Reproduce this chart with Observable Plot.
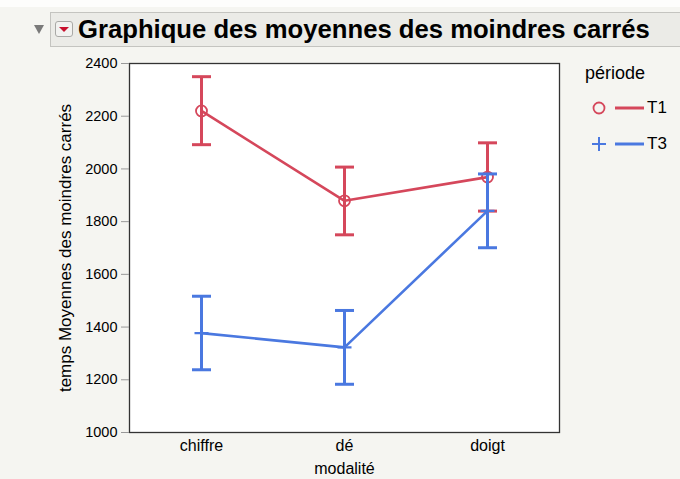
<!DOCTYPE html>
<html>
<head>
<meta charset="utf-8">
<script src="https://cdn.jsdelivr.net/npm/d3@7"></script>
<script src="https://cdn.jsdelivr.net/npm/@observablehq/plot@0.6"></script>
<style>
  html, body { margin: 0; padding: 0; }
  body { width: 680px; height: 479px; overflow: hidden; background: #f5f5f1; position: relative;
         font-family: "Liberation Sans", Arial, Helvetica, sans-serif; }
  #strip { position: absolute; left: 0; top: 0; width: 680px; height: 7px; background: #fdfdfc; }
  #header { position: absolute; left: 50px; top: 12px; width: 640px; height: 35px;
            background: #ebebe7; border: 1px solid #c4c4c0; box-sizing: border-box; }
  #tri { position: absolute; left: 34px; top: 25px; width: 0; height: 0;
         border-left: 5px solid transparent; border-right: 5px solid transparent; border-top: 9px solid #7a7a7a; }
  #icon { position: absolute; left: 55px; top: 21px; width: 18px; height: 16px; box-sizing: border-box;
          border: 1px solid #a9a9a6; border-radius: 3px; background: #f2f2f0; }
  #icon::after { content: ""; position: absolute; left: 3px; top: 5px; width: 0; height: 0;
          border-left: 5px solid transparent; border-right: 5px solid transparent; border-top: 5px solid #c8102e; }
  #title { position: absolute; left: 78px; top: 13px; height: 33px; line-height: 33px; font-weight: bold;
           color: #000; white-space: nowrap; }
  #chart { position: absolute; left: 0; top: 52px; }
  #legend { position: absolute; left: 585px; top: 61px; color: #000; }
</style>
</head>
<body>
<div id="strip"></div>
<div id="header"></div>
<div id="tri"></div>
<div id="icon"></div>
<div id="title">Graphique des moyennes des moindres carrés</div>
<div id="chart"></div>
<div id="legend"></div>
<script>
// ---- data ----
const categories = ["chiffre", "dé", "doigt"];
const periods = ["T1", "T3"];
const t1Mean  = [2220, 1879, 1969];
const t1Lower = [2092, 1750, 1840];
const t1Upper = [2350, 2007, 2099];
const t3Mean  = [1377, 1323, 1841];
const t3Lower = [1238, 1183, 1701];
const t3Upper = [1517, 1463, 1981];
const yTicks = [1000, 1200, 1400, 1600, 1800, 2000, 2200, 2400];
const xLabel = "modalité";
const yLabel = "temps Moyennes des moindres carrés";
const legendTitle = "période";
const colors = ["#d5475b", "#4a78e0"];

// ---- table ----
const series = [
  {period: periods[0], mean: t1Mean, lower: t1Lower, upper: t1Upper},
  {period: periods[1], mean: t3Mean, lower: t3Lower, upper: t3Upper}
];
const rows = series.map(s => categories.map((c, i) => ({
  modalite: c, period: s.period, mean: s.mean[i], lower: s.lower[i], upper: s.upper[i]
})));

// ---- symbols ----
const capSymbol = {draw(ctx) { ctx.moveTo(-9.5, 0); ctx.lineTo(9.5, 0); }};
const plusSymbol = {draw(ctx) { ctx.moveTo(-7, 0); ctx.lineTo(7, 0); ctx.moveTo(0, -7); ctx.lineTo(0, 7); }};

// ---- fit title ----
(function () {
  const el = document.getElementById("title");
  const cv = document.createElement("canvas").getContext("2d");
  cv.font = "bold 24px 'Liberation Sans', Arial, sans-serif";
  const w = cv.measureText(el.textContent).width;
  el.style.fontSize = (24 * 572 / w).toFixed(2) + "px";
})();

// ---- chart ----
const marks = [Plot.frame({fill: "white"})];
rows.forEach((r, k) => {
  const col = colors[k];
  marks.push(
    Plot.ruleX(r, {x: "modalite", y1: "lower", y2: "upper", stroke: col, strokeWidth: 3}),
    Plot.dot(r, {x: "modalite", y: "lower", symbol: capSymbol, stroke: col, strokeWidth: 3, fill: "none"}),
    Plot.dot(r, {x: "modalite", y: "upper", symbol: capSymbol, stroke: col, strokeWidth: 3, fill: "none"}),
    Plot.line(r, {x: "modalite", y: "mean", stroke: col, strokeWidth: 2.6}),
    k === 0
      ? Plot.dot(r, {x: "modalite", y: "mean", symbol: "circle", r: 5.5, stroke: col, strokeWidth: 1.8, fill: "none"})
      : Plot.dot(r, {x: "modalite", y: "mean", symbol: plusSymbol, stroke: col, strokeWidth: 2.2, fill: "none"})
  );
});
marks.push(
  Plot.frame({stroke: "#333", strokeWidth: 1.3}),
  Plot.axisY({ticks: yTicks, tickFormat: "d", tickSize: 8, tickPadding: 4, stroke: "#999", fill: "#000",
              fontSize: 14.5, label: yLabel, labelAnchor: "center", labelArrow: "none", labelOffset: 71}),
  Plot.axisX({tickSize: 0, tickPadding: 7, fill: "#000", fontSize: 16,
              label: xLabel, labelAnchor: "center", labelArrow: "none", labelOffset: 41})
);

const chart = Plot.plot({
  width: 680, height: 427,
  marginTop: 11, marginBottom: 47, marginLeft: 129, marginRight: 121,
  style: {background: "transparent", fontFamily: "'Liberation Sans', Arial, sans-serif", fontSize: "14px", color: "#000"},
  x: {type: "point", domain: categories, padding: 0.5},
  y: {domain: [1000, 2400]},
  marks
});
document.getElementById("chart").append(chart);
d3.select(chart).selectAll('g[aria-label="y-axis label"]').attr("font-size", 17);
d3.select(chart).selectAll('g[aria-label="y-axis label"] text').attr("font-size", 17);
d3.select(chart).selectAll('g[aria-label="x-axis label"]').attr("font-size", 16);
d3.select(chart).selectAll('g[aria-label="x-axis label"] text').attr("font-size", 16);
d3.select(chart).selectAll('g[aria-label="x-axis tick label"]').attr("font-size", 16);
d3.select(chart).selectAll('g[aria-label="x-axis tick label"] text').attr("font-size", 16);

// ---- legend ----
const leg = d3.select("#legend");
leg.append("div").text(legendTitle).style("margin-bottom", "6px").style("font-size", "18px")
  .style("margin-top", "2px");
periods.forEach((p, k) => {
  const row = leg.append("div").style("display", "flex").style("align-items", "center")
    .style("height", "36px").style("margin-left", "6px");
  const svg = row.append("svg").attr("width", 58).attr("height", 20);
  if (k === 0) svg.append("circle").attr("cx", 8).attr("cy", 10).attr("r", 5.5)
    .attr("fill", "none").attr("stroke", colors[k]).attr("stroke-width", 1.8);
  else svg.append("path").attr("d", "M1,10H15M8,3V17").attr("stroke", colors[k]).attr("stroke-width", 2);
  svg.append("line").attr("x1", 24).attr("x2", 53).attr("y1", 10).attr("y2", 10)
    .attr("stroke", colors[k]).attr("stroke-width", 3);
  row.append("span").text(p).style("font-size", "17px").style("margin-left", "-2px");
});
</script>
</body>
</html>
